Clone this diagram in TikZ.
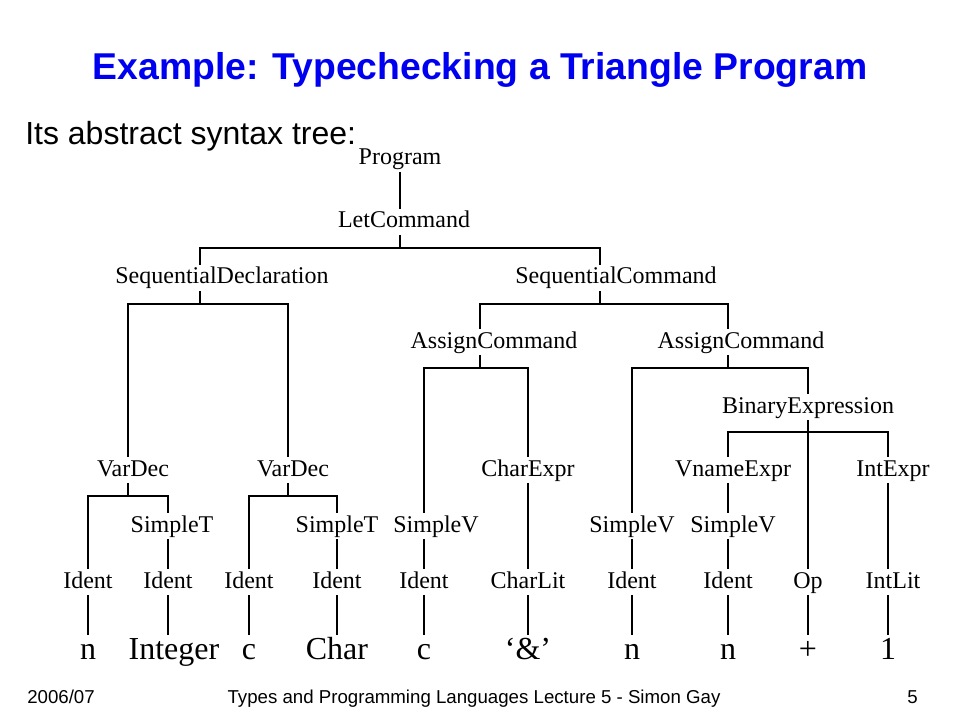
\documentclass[tikz,border=0pt]{standalone}
\usepackage{fontspec}
\setmainfont{Liberation Serif}
\newfontfamily\arialfont{Liberation Sans}
\usepackage{xcolor}
\usepackage{tikz}
\definecolor{titleblue}{RGB}{0,0,240}
\tikzset{
  ast/.style={inner sep=0pt, inner ysep=1pt, anchor=base, text height=13pt, text depth=4pt,
    font=\fontsize{18}{21}\selectfont},
  leaf/.style={inner sep=0pt, inner ysep=1pt, anchor=base, text height=17pt, text depth=5pt,
    font=\fontsize{24}{28}\selectfont},
  slide/.style={inner sep=0pt, font=\arialfont\fontsize{#1}{#1}\selectfont},
  branch/.style={line width=0.8pt}
}
\begin{document}
\begin{tikzpicture}[x=0.75pt,y=-0.75pt]
\fill[white] (0,0) rectangle (960,720);
\useasboundingbox (0,0) rectangle (960,720);
% Slide text
\node[slide=28, anchor=base, text=titleblue] (title) at (480,80) {\bfseries Example: Typechecking a Triangle Program};
\node[slide=24, anchor=base west] (intro) at (25,145) {Its abstract syntax tree:};
\node[slide=14, anchor=base west] (year) at (27,703) {2006/07};
\node[slide=14, anchor=base] (course) at (474,703) {Types and Programming Languages Lecture 5 - Simon Gay};
\node[slide=14, anchor=base east] (page) at (918,703) {5};
% Tree nodes
\node[ast] (prog) at (400,165) {Program};
\node[ast] (letc) at (404,228) {LetCommand};
\node[ast] (sdecl) at (222,284) {SequentialDeclaration};
\node[ast] (scmd) at (616,284) {SequentialCommand};
\node[ast] (asgA) at (494,348) {AssignCommand};
\node[ast] (asgB) at (741,348) {AssignCommand};
\node[ast] (binx) at (808,413) {BinaryExpression};
\node[ast] (vdecA) at (133,476) {VarDec};
\node[ast] (vdecB) at (293,476) {VarDec};
\node[ast] (chex) at (528,476) {CharExpr};
\node[ast] (vnex) at (733,476) {VnameExpr};
\node[ast] (inex) at (893,476) {IntExpr};
\node[ast] (stA) at (172,532) {SimpleT};
\node[ast] (stB) at (337,532) {SimpleT};
\node[ast] (svA) at (436,532) {SimpleV};
\node[ast] (svB) at (632,532) {SimpleV};
\node[ast] (svC) at (733,532) {SimpleV};
\node[ast] (idA) at (88,588) {Ident};
\node[ast] (idB) at (168,588) {Ident};
\node[ast] (idC) at (249,588) {Ident};
\node[ast] (idD) at (337,588) {Ident};
\node[ast] (idE) at (424,588) {Ident};
\node[ast] (clit) at (528,588) {CharLit};
\node[ast] (idF) at (632,588) {Ident};
\node[ast] (idG) at (728,588) {Ident};
\node[ast] (opn) at (808,588) {Op};
\node[ast] (ilit) at (893,588) {IntLit};
% Program text
\node[leaf] (wA) at (88,659) {n};
\node[leaf] (wB) at (174,659) {Integer};
\node[leaf] (wC) at (249,659) {c};
\node[leaf] (wD) at (337,659) {Char};
\node[leaf] (wE) at (424,659) {c};
\node[leaf] (wF) at (528,659) {‘\&’};
\node[leaf] (wG) at (632,659) {n};
\node[leaf] (wH) at (728,659) {n};
\node[leaf] (wI) at (808,659) {+};
\node[leaf] (wJ) at (888,659) {1};
% Junctions of the branches
\coordinate (j-letc) at (400,248);
\coordinate (j-sdecl) at (200,304);
\coordinate (j-scmd) at (600,304);
\coordinate (j-asgA) at (480,368);
\coordinate (j-asgB) at (728,368);
\coordinate (j-binx) at (808,432);
\coordinate (j-vdecA) at (128,496);
\coordinate (j-vdecB) at (288,496);
\begin{scope}[branch]
 % Upper tree
 \draw (prog.south) -- ([shift={(-4,0)}]letc.north);
 \draw ([shift={(-4,0)}]letc.south) -- (j-letc);
 \draw (j-letc) -| ([shift={(-22,0)}]sdecl.north);
 \draw (j-letc) -| ([shift={(-16,0)}]scmd.north);
 \draw ([shift={(-22,0)}]sdecl.south) -- (j-sdecl);
 \draw (j-sdecl) -| ([shift={(-5,0)}]vdecA.north);
 \draw (j-sdecl) -| ([shift={(-5,0)}]vdecB.north);
 \draw ([shift={(-16,0)}]scmd.south) -- (j-scmd);
 \draw (j-scmd) -| ([shift={(-14,0)}]asgA.north);
 \draw (j-scmd) -| ([shift={(-13,0)}]asgB.north);
 \draw ([shift={(-14,0)}]asgA.south) -- (j-asgA);
 \draw (j-asgA) -| ([shift={(-12,0)}]svA.north);
 \draw (j-asgA) -| (chex.north);
 \draw ([shift={(-13,0)}]asgB.south) -- (j-asgB);
 \draw (j-asgB) -| (svB.north);
 \draw (j-asgB) -| (binx.north);
 \draw (binx.south) -- (opn.north);
 \draw (j-binx) -| ([shift={(-5,0)}]vnex.north);
 \draw (j-binx) -| ([shift={(-5,0)}]inex.north);
 % Declarations
 \draw ([shift={(-5,0)}]vdecA.south) -- (j-vdecA);
 \draw (j-vdecA) -| (idA.north);
 \draw (j-vdecA) -| ([shift={(-4,0)}]stA.north);
 \draw ([shift={(-5,0)}]vdecB.south) -- (j-vdecB);
 \draw (j-vdecB) -| (idC.north);
 \draw (j-vdecB) -| (stB.north);
 % Single children
 \draw ([shift={(-4,0)}]stA.south) -- (idB.north);
 \draw (stB.south) -- (idD.north);
 \draw ([shift={(-12,0)}]svA.south) -- (idE.north);
 \draw (chex.south) -- (clit.north);
 \draw (svB.south) -- (idF.north);
 \draw ([shift={(-5,0)}]vnex.south) -- ([shift={(-5,0)}]svC.north);
 \draw ([shift={(-5,0)}]svC.south) -- (idG.north);
 \draw ([shift={(-5,0)}]inex.south) -- ([shift={(-5,0)}]ilit.north);
 % Leaves
 \draw (idA.south) -- (wA.north);
 \draw (idB.south) -- ([shift={(-6,0)}]wB.north);
 \draw (idC.south) -- (wC.north);
 \draw (idD.south) -- (wD.north);
 \draw (idE.south) -- (wE.north);
 \draw (clit.south) -- (wF.north);
 \draw (idF.south) -- (wG.north);
 \draw (idG.south) -- (wH.north);
 \draw (opn.south) -- (wI.north);
 \draw ([shift={(-5,0)}]ilit.south) -- (wJ.north);
\end{scope}
\end{tikzpicture}
\end{document}
